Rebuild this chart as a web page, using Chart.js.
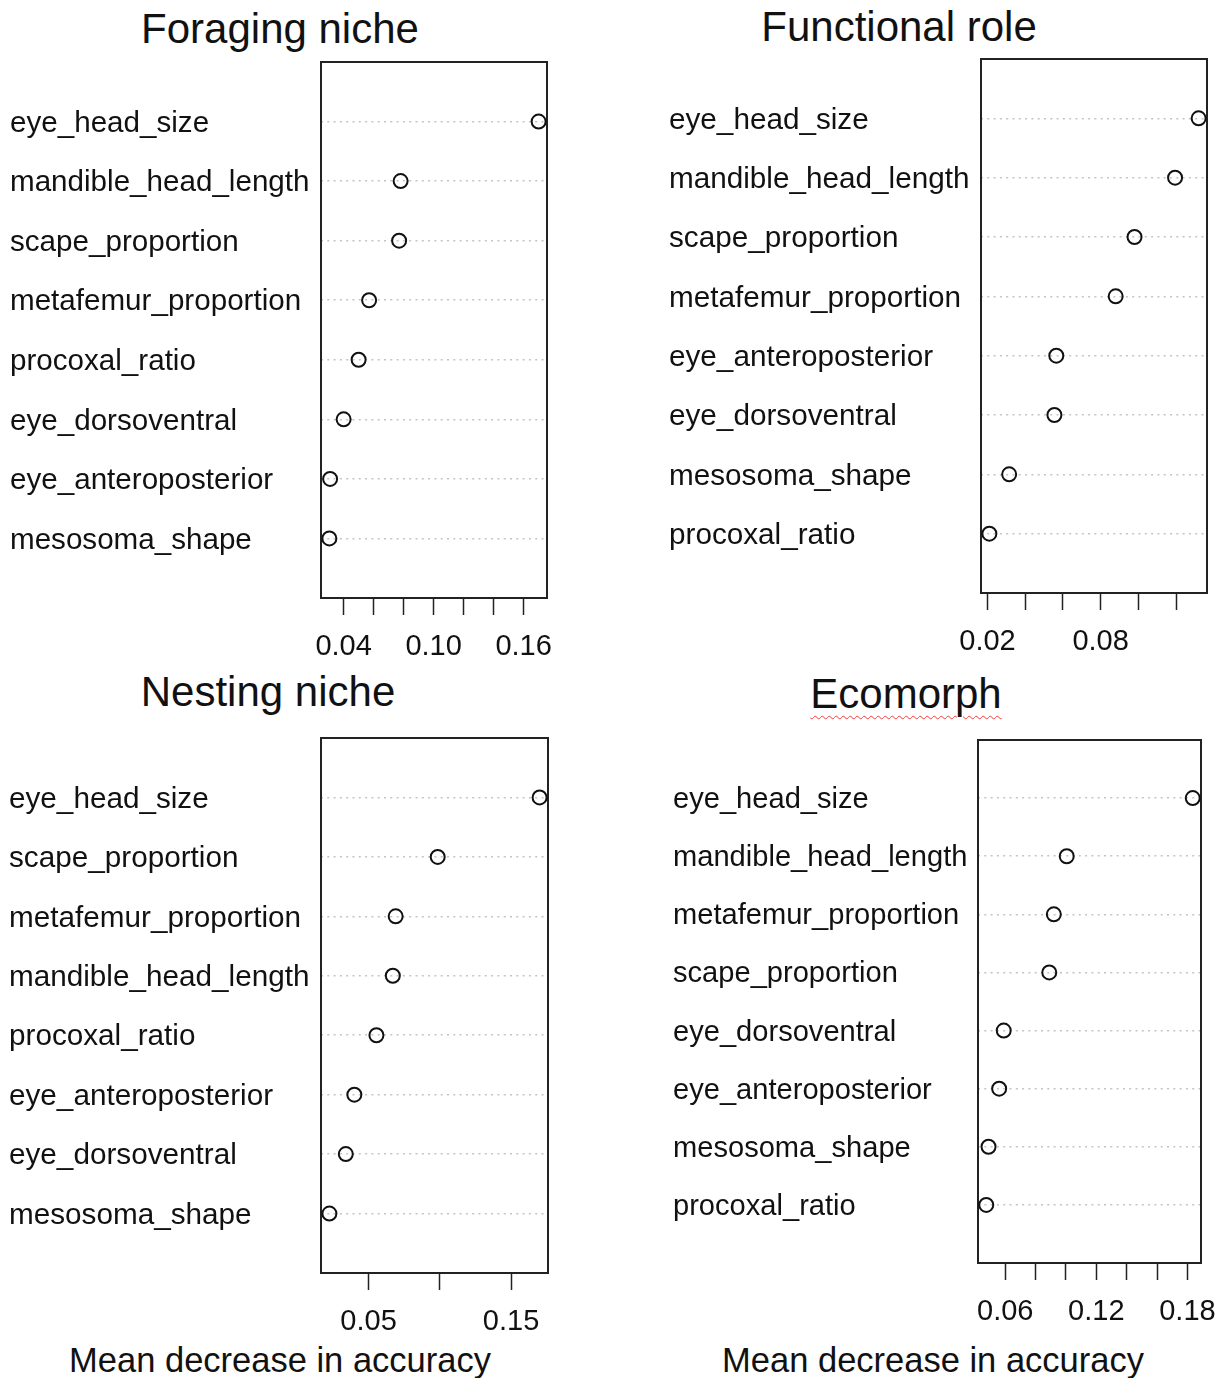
<!DOCTYPE html>
<html>
<head>
<meta charset="utf-8">
<script src="https://cdn.jsdelivr.net/npm/chart.js@4/dist/chart.umd.min.js"></script>
<style>
  body { margin: 0; background: #fff; width: 1217px; height: 1378px; position: relative; overflow: hidden;
         font-family: "Liberation Sans", Arial, sans-serif; color: #111; }
  .panel { position: absolute; }
  .txt { position: absolute; white-space: nowrap; line-height: 1; transform: translate(-50%, -50%); }
  .main { font-size: 42px; }
  .xlab { font-size: 34.5px; }
  .squiggle { text-decoration: underline wavy #f03c3c; text-decoration-thickness: 1px; text-underline-offset: 7px; }
</style>
</head>
<body>
<div class="txt main" style="left:280px;top:29px">Foraging niche</div>
<div class="txt main" style="left:899px;top:27px">Functional role</div>
<div class="txt main" style="left:268px;top:692px">Nesting niche</div>
<div class="txt main" style="left:906px;top:694px"><span class="squiggle">Ecomorph</span></div>
<div class="txt xlab" style="left:280px;top:1360px">Mean decrease in accuracy</div>
<div class="txt xlab" style="left:933px;top:1360px">Mean decrease in accuracy</div>

<canvas class="panel" id="foraging" width="590" height="640" style="left:0;top:40px"></canvas>
<canvas class="panel" id="functional" width="580" height="643" style="left:659px;top:37px"></canvas>
<canvas class="panel" id="nesting" width="590" height="640" style="left:0;top:716px"></canvas>
<canvas class="panel" id="ecomorph" width="590" height="630" style="left:663px;top:718px"></canvas>

<script>
// variables listed top to bottom, as in the dotcharts
const foragingVars = ["eye_head_size", "mandible_head_length", "scape_proportion", "metafemur_proportion",
  "procoxal_ratio", "eye_dorsoventral", "eye_anteroposterior", "mesosoma_shape"];
const foragingVals = [0.170, 0.078, 0.077, 0.057, 0.050, 0.040, 0.031, 0.0305];
const foragingTicks = [0.04, 0.06, 0.08, 0.10, 0.12, 0.14, 0.16];
const foragingTickLabels = ["0.04", "", "", "0.10", "", "", "0.16"];

const functionalVars = ["eye_head_size", "mandible_head_length", "scape_proportion", "metafemur_proportion",
  "eye_anteroposterior", "eye_dorsoventral", "mesosoma_shape", "procoxal_ratio"];
const functionalVals = [0.132, 0.1195, 0.098, 0.088, 0.0565, 0.0555, 0.0315, 0.021];
const functionalTicks = [0.02, 0.04, 0.06, 0.08, 0.10, 0.12];
const functionalTickLabels = ["0.02", "", "", "0.08", "", ""];

const nestingVars = ["eye_head_size", "scape_proportion", "metafemur_proportion", "mandible_head_length",
  "procoxal_ratio", "eye_anteroposterior", "eye_dorsoventral", "mesosoma_shape"];
const nestingVals = [0.170, 0.0985, 0.069, 0.067, 0.0555, 0.040, 0.034, 0.0225];
const nestingTicks = [0.05, 0.10, 0.15];
const nestingTickLabels = ["0.05", "", "0.15"];

const ecomorphVars = ["eye_head_size", "mandible_head_length", "metafemur_proportion", "scape_proportion",
  "eye_dorsoventral", "eye_anteroposterior", "mesosoma_shape", "procoxal_ratio"];
const ecomorphVals = [0.1835, 0.1005, 0.092, 0.089, 0.059, 0.056, 0.049, 0.0475];
const ecomorphTicks = [0.06, 0.08, 0.10, 0.12, 0.14, 0.16, 0.18];
const ecomorphTickLabels = ["0.06", "", "", "0.12", "", "", "0.18"];

const FONT = "'Liberation Sans', Arial, sans-serif";

// box round the plot region, like R's box()
const frame = {
  id: "frame",
  beforeDatasetsDraw(chart) {
    const a = chart.chartArea;
    const ctx = chart.ctx;
    ctx.save();
    ctx.strokeStyle = "#222";
    ctx.lineWidth = 2;
    ctx.strokeRect(a.left, a.top, a.right - a.left, a.bottom - a.top);
    ctx.restore();
  },
};

function dotChart(id, vars, vals, ticks, tickLabels, pad, yWidth, labelSize) {
  const n = vars.length;
  const rows = vars.map((v, i) => i + 1);
  // R extends the x range by 4% on each side
  const lo = Math.min(...vals), hi = Math.max(...vals);
  const ext = (hi - lo) * 0.04;

  return new Chart(document.getElementById(id), {
    type: "scatter",
    data: {
      datasets: [{
        data: vals.map((v, i) => ({ x: v, y: n - i })),
        pointStyle: "circle",
        pointRadius: 7,
        pointHoverRadius: 7,
        pointBorderWidth: 2,
        borderColor: "#111",
        backgroundColor: "rgba(0,0,0,0)",
        clip: false,
      }],
    },
    options: {
      responsive: false,
      animation: false,
      events: [],
      layout: { padding: pad },
      plugins: { legend: { display: false }, tooltip: { enabled: false } },
      scales: {
        x: {
          type: "linear",
          min: lo - ext,
          max: hi + ext,
          afterBuildTicks: (s) => { s.ticks = ticks.map((v) => ({ value: v })); },
          afterFit: (s) => { s.height = 70; },
          grid: { drawOnChartArea: false, drawTicks: true, tickLength: 17, tickColor: "#222", tickWidth: 1.5 },
          border: { display: false },
          ticks: {
            autoSkip: false, maxRotation: 0, padding: 15, color: "#111",
            font: { family: FONT, size: 29 },
            callback: (v, i) => tickLabels[i],
          },
        },
        y: {
          type: "linear",
          min: 0,
          max: n + 1,
          afterBuildTicks: (s) => { s.ticks = rows.map((v) => ({ value: v })); },
          afterFit: (s) => { s.width = yWidth; },
          grid: { color: "#c4c4c4", lineWidth: 1.5, drawTicks: false },
          border: { display: false, dash: [2, 4.3] },
          ticks: {
            crossAlign: "far", padding: 0, color: "#111", labelOffset: 2,
            font: { family: FONT, size: labelSize },
            callback: (v) => vars[n - v],
          },
        },
      },
    },
    plugins: [frame],
  });
}

dotChart("foraging", foragingVars, foragingVals, foragingTicks, foragingTickLabels,
  { left: 10, top: 22, right: 43, bottom: 12 }, 311, 29.6);
dotChart("functional", functionalVars, functionalVals, functionalTicks, functionalTickLabels,
  { left: 10, top: 22, right: 32, bottom: 17 }, 312, 29.7);
dotChart("nesting", nestingVars, nestingVals, nestingTicks, nestingTickLabels,
  { left: 9, top: 22, right: 42, bottom: 13 }, 312, 29.7);
dotChart("ecomorph", ecomorphVars, ecomorphVals, ecomorphTicks, ecomorphTickLabels,
  { left: 10, top: 22, right: 52, bottom: 15 }, 305, 29.1);
</script>
</body>
</html>
